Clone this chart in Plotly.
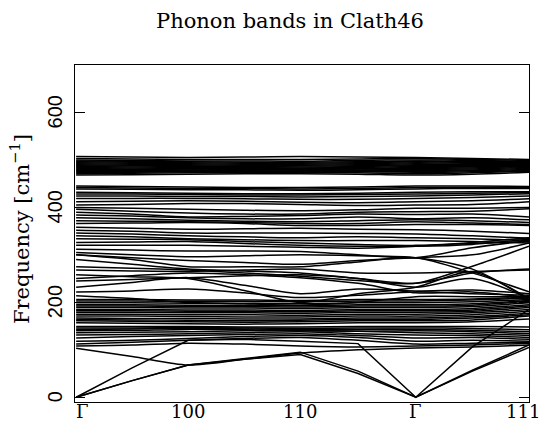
import plotly.graph_objects as go

# k-path: knot positions (high-symmetry points and midpoints)
k_knots = [0, 0.495, 0.99, 1.485, 1.98, 2.49, 3.0, 3.5, 4.0]
tick_pos = [0, 0.99, 1.98, 3.0, 4.0]
tick_text = ["Γ", "100", "110", "Γ", "111"]
y_ticks = [0, 200, 400, 600]

# acoustic branches (cm^-1) at the knots
acoustic = [
    [0, 35, 68, 80, 90, 50, 0, 55, 105],
    [0, 35, 68, 82, 95, 55, 0, 57, 110],
    [0, 62, 120, 122, 118, 113, 0, 106, 185],
]

low_optical = [
    [103, 86, 68, 80, 93, 100, 104, 106, 110],
    [108, 110, 114, 112, 108, 106, 108, 110, 114],
    [112, 116, 120, 124, 126, 120, 112, 114, 116],
    [118, 120, 124, 128, 130, 126, 118, 120, 118],
    [125, 128, 130, 132, 134, 130, 125, 126, 122],
    [131, 132, 134, 136, 138, 134, 131, 130, 126],
    [136, 137, 138, 140, 141, 139, 136, 134, 130],
]

dense_mid = [
    [140, 141, 143, 142, 140, 139, 140, 138, 134],
    [143, 144, 145, 144, 143, 143, 143, 141, 138],
    [146, 146, 147, 146, 145, 146, 146, 145, 142],
    [149, 149, 149, 148, 148, 149, 149, 149, 148],
    [157, 156, 155, 154, 155, 157, 157, 159, 165],
    [161, 160, 159, 158, 159, 161, 161, 163, 171],
    [164, 163, 162, 161, 162, 164, 164, 167, 174],
    [167, 166, 166, 165, 165, 167, 167, 170, 177],
    [171, 171, 170, 169, 169, 171, 171, 174, 181],
    [175, 175, 174, 174, 173, 175, 175, 178, 185],
    [179, 179, 178, 178, 177, 179, 179, 181, 189],
    [182, 182, 181, 181, 180, 182, 182, 184, 192],
    [185, 185, 184, 184, 183, 185, 185, 187, 195],
    [189, 189, 188, 188, 187, 189, 189, 191, 199],
    [192, 192, 191, 191, 190, 192, 192, 194, 202],
    [195, 195, 194, 194, 193, 195, 195, 197, 204],
    [199, 199, 198, 198, 197, 199, 199, 201, 206],
    [203, 203, 202, 202, 201, 203, 203, 205, 209],
    [206, 206, 205, 205, 204, 206, 206, 207, 211],
]

band_200_260 = [
    [214, 208, 200, 197, 194, 200, 212, 212, 212],
    [222, 224, 228, 220, 210, 215, 222, 218, 215],
    [232, 242, 252, 236, 218, 228, 224, 226, 218],
    [258, 254, 250, 225, 200, 218, 232, 264, 205],
    [245, 248, 252, 256, 258, 250, 232, 250, 208],
    [250, 256, 262, 258, 252, 240, 220, 222, 210],
]

band_260_315 = [
    [312, 310, 308, 308, 307, 300, 294, 315, 330],
    [305, 300, 296, 298, 300, 298, 294, 270, 208],
    [300, 294, 288, 284, 280, 288, 294, 300, 325],
    [300, 290, 275, 275, 275, 285, 294, 262, 222],
    [290, 280, 270, 266, 262, 250, 240, 262, 270],
    [275, 272, 268, 262, 255, 246, 240, 276, 318],
    [268, 266, 265, 268, 270, 262, 262, 265, 268],
]

band_320_360 = [
    [358, 356, 354, 355, 356, 354, 353, 350, 345],
    [352, 350, 346, 346, 346, 345, 344, 340, 335],
    [346, 344, 340, 338, 336, 338, 336, 334, 330],
    [340, 338, 334, 332, 330, 330, 330, 328, 325],
    [334, 333, 332, 328, 325, 322, 320, 324, 328],
    [326, 327, 328, 324, 320, 318, 318, 322, 333],
    [320, 320, 320, 318, 316, 314, 318, 326, 336],
]

band_360_400 = [
    [400, 398, 396, 394, 393, 395, 398, 398, 400],
    [396, 392, 388, 386, 386, 390, 391, 392, 397],
    [390, 386, 380, 381, 383, 386, 385, 386, 380],
    [384, 382, 378, 376, 376, 380, 376, 378, 374],
    [378, 376, 373, 371, 370, 372, 374, 372, 368],
    [372, 371, 370, 368, 366, 366, 370, 367, 364],
    [366, 367, 368, 366, 362, 362, 364, 364, 362],
]

band_405_450 = [
    [445, 444, 443, 442, 442, 443, 445, 445, 444],
    [442, 441, 440, 440, 439, 440, 442, 442, 442],
    [439, 438, 437, 437, 436, 437, 439, 440, 440],
    [432, 431, 430, 429, 429, 430, 432, 433, 433],
    [428, 428, 427, 426, 426, 427, 428, 430, 431],
    [424, 424, 423, 423, 422, 423, 424, 426, 429],
    [419, 419, 419, 418, 417, 417, 419, 421, 424],
    [412, 413, 414, 413, 411, 410, 412, 414, 418],
    [405, 406, 408, 408, 406, 404, 405, 406, 412],
]

band_top = [
    [507, 506, 505, 506, 507, 506, 505, 503, 501],
    [503, 502, 501, 501, 501, 502, 503, 501, 499],
    [500, 499, 498, 498, 497, 499, 500, 499, 497],
    [498, 497, 496, 495, 495, 496, 498, 497, 496],
    [496, 495, 494, 493, 493, 494, 496, 495, 494],
    [494, 493, 492, 491, 491, 492, 494, 493, 493],
    [492, 491, 490, 489, 489, 490, 492, 491, 491],
    [490, 489, 488, 487, 487, 488, 490, 490, 490],
    [488, 487, 486, 486, 485, 486, 488, 488, 489],
    [486, 485, 484, 484, 483, 484, 486, 486, 488],
    [484, 483, 482, 482, 482, 482, 484, 485, 487],
    [482, 481, 481, 480, 480, 481, 482, 483, 486],
    [480, 480, 479, 479, 479, 479, 480, 481, 484],
    [478, 478, 478, 477, 477, 478, 478, 479, 482],
    [476, 476, 476, 476, 476, 476, 476, 477, 480],
    [474, 474, 475, 475, 475, 475, 474, 475, 478],
    [471, 472, 473, 473, 473, 473, 471, 473, 476],
    [468, 469, 470, 471, 471, 470, 468, 470, 474],
]

fig = go.Figure()
line_kw = dict(color="black", width=1.5)
for band in acoustic:
    fig.add_trace(go.Scatter(x=k_knots, y=band, mode="lines",
                             line=dict(**line_kw, shape="linear"),
                             showlegend=False, hoverinfo="skip"))
for group in [low_optical, dense_mid, band_200_260, band_260_315,
              band_320_360, band_360_400, band_405_450, band_top]:
    for band in group:
        fig.add_trace(go.Scatter(x=k_knots, y=band, mode="lines",
                                 line=dict(**line_kw, shape="spline", smoothing=0.8),
                                 showlegend=False, hoverinfo="skip"))

serif = "DejaVu Serif"
plot_w = 543 - 75 - 14
plot_h = 424 - 65 - 22

# rotated y tick labels (reading upwards), placed via the y axis scale
annotations = [
    dict(text=str(v), x=(55 - 75) / plot_w, xref="paper", y=v, yref="y",
         textangle=-90, showarrow=False, xanchor="center", yanchor="middle",
         font=dict(family="Liberation Sans", size=20, color="black"))
    for v in y_ticks
]
# x tick labels, placed via the x axis scale
x_shifts = [6, 0, 0, 0, -6]
for pos, lab, sh in zip(tick_pos, tick_text, x_shifts):
    annotations.append(
        dict(text=lab, x=pos, xref="x", y=0, yref="paper", yanchor="middle",
             xanchor="center", xshift=sh, yshift=-9, showarrow=False, borderpad=0,
             font=dict(family=serif, size=18, color="black")))
annotations.append(
    dict(text="Frequency [cm<sup>−1</sup>]", x=(20 - 75) / plot_w, xref="paper",
         y=(402 - 229) / plot_h, yref="paper", textangle=-90, showarrow=False,
         xanchor="center", yanchor="middle",
         font=dict(family=serif, size=21, color="black"))
)

fig.update_layout(
    width=543, height=424,
    margin=dict(l=75, r=14, t=65, b=22),
    paper_bgcolor="white", plot_bgcolor="white",
    title=dict(text="Phonon bands in Clath46", x=290 / 543, xanchor="center",
               y=1 - 21 / 424, yanchor="middle",
               font=dict(family=serif, size=21, color="black")),
    annotations=annotations,
    xaxis=dict(range=[-0.01, 4.0], tickvals=tick_pos, showticklabels=False,
               showgrid=False, zeroline=False, showline=True, mirror=True,
               linecolor="black", linewidth=1.2, ticks="", automargin=False),
    yaxis=dict(range=[-10, 700], tickvals=y_ticks, showticklabels=False,
               showgrid=False, zeroline=False, automargin=False,
               showline=True, mirror="ticks", linecolor="black", linewidth=1.2,
               ticks="inside", ticklen=10, tickcolor="black", tickwidth=1.2),
)
fig.write_html("out.html")
